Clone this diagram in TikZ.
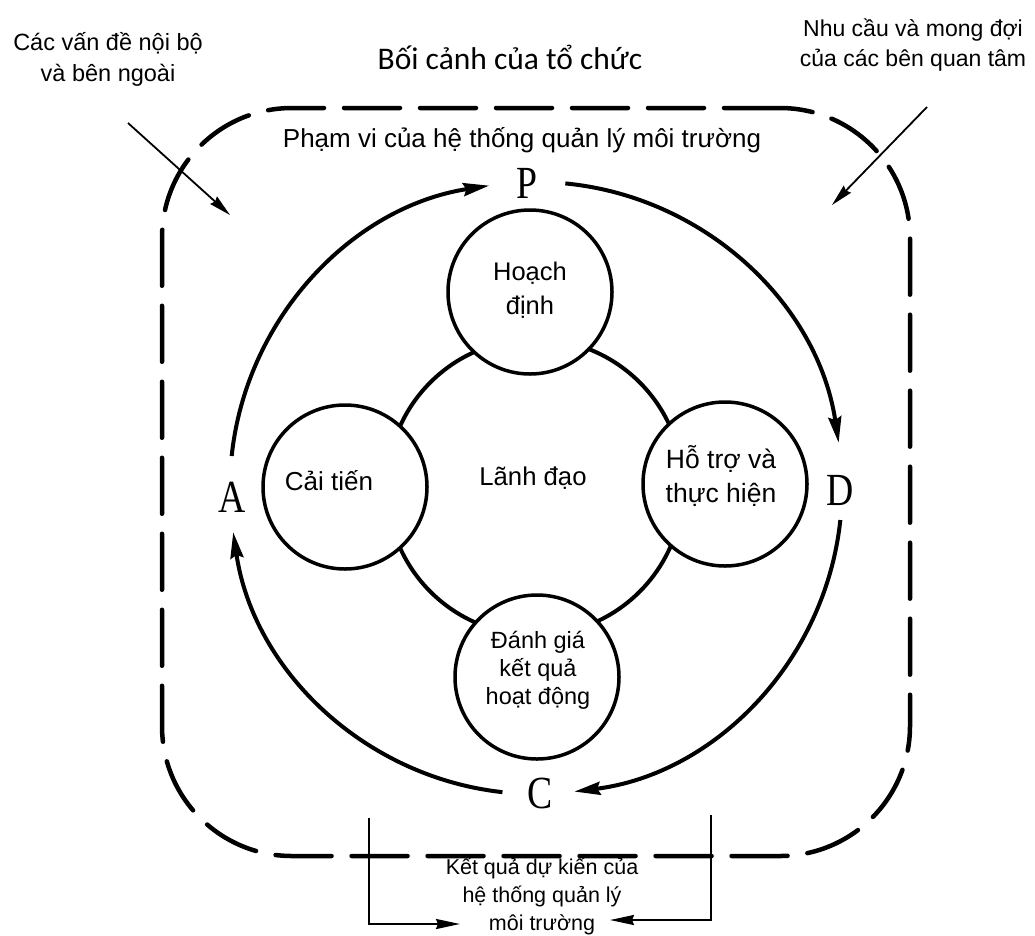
\documentclass[tikz,border=0pt]{standalone}
\usepackage{fontspec}
\setmainfont{Liberation Sans}
\newfontfamily\calfont{Carlito}
\newfontfamily\serfont{Liberation Serif}
\usetikzlibrary{arrows.meta,calc}
\begin{document}
\begin{tikzpicture}[x=1pt,y=-1pt,
  frame/.style={draw, line width=4.5pt, dash pattern=on 56pt off 20pt, line cap=round,
    rectangle, rounded corners=130pt, minimum width=748pt, minimum height=748pt, inner sep=0pt},
  cyc/.style={line width=4pt, -{Stealth[length=26pt,width=13pt,inset=3pt]}},
  circ/.style={circle, draw, line width=3.5pt, fill=white, minimum size=164pt, inner sep=0pt},
  ring/.style={circle, draw, line width=4pt, minimum size=296pt, inner sep=0pt},
  thinarrow/.style={line width=1.8pt, -{Stealth[length=22pt,width=10pt,inset=2pt]}},
  bracket/.style={line width=2pt, -{Stealth[length=24pt,width=10pt,inset=2pt]}},
  lbl/.style={align=center, inner sep=0pt},
  letter/.style={inner sep=0pt, font=\serfont\fontsize{46}{46}\selectfont}
]
\useasboundingbox (0,0) rectangle (1035,935);
\fill[white] (0,0) rectangle (1035,935);

% outer dashed frame
\node[frame] (scopebox) at (536,482) {};

% top texts
\node[lbl, font=\fontsize{23.5}{31}\selectfont] (issues) at (108,59) {Các vấn đề nội bộ\\và bên ngoài};
\node[lbl, font=\fontsize{23}{30}\selectfont] (needs) at (913,45) {Nhu cầu và mong đợi\\của các bên quan tâm};
\node[lbl, font=\calfont\fontsize{31.5}{36}\selectfont] (context) at (510,57) {Bối cảnh của tổ chức};
\node[lbl, font=\fontsize{26}{30}\selectfont] (scopetxt) at (522,140) {Phạm vi của hệ thống quản lý môi trường};

% diagonal input arrows
\coordinate (issA) at (128,123);
\coordinate (issB) at (230,215);
\draw[thinarrow] (issA) -- (issB);
\coordinate (needA) at (927,107);
\coordinate (needB) at (832,205);
\draw[thinarrow] (needA) -- (needB);

% PDCA letters
\node[letter] (P) at (527,183) {\scalebox{0.82}[1]{P}};
\node[letter] (D) at (840,490) {\scalebox{0.82}[1]{D}};
\node[letter] (C) at (540,793) {\scalebox{0.82}[1]{C}};
\node[letter] (A) at (232,497) {\scalebox{0.82}[1]{A}};

% PDCA cycle arcs
\coordinate (O) at (536,488);
\draw[cyc] ($(O)+(174:306pt)$) arc[start angle=174, end angle=98.8, radius=306pt];
\draw[cyc] ($(O)+(84.5:306pt)$) arc[start angle=84.5, end angle=8.5, radius=306pt];
\draw[cyc] ($(O)+(-6:306pt)$) arc[start angle=-6, end angle=-82.8, radius=306pt];
\draw[cyc] ($(O)+(-96.3:306pt)$) arc[start angle=-96.3, end angle=-171.7, radius=306pt];

% leadership ring and stage circles
\node[ring] (lead) at (535,487) {};
\node[circ] (plan) at (530,292) {};
\node[circ] (impr) at (345,487) {};
\node[circ] (supp) at (725,484) {};
\node[circ] (eval) at (537,677) {};

\node[lbl, font=\fontsize{25.7}{30}\selectfont] (leadtxt) at (533,478) {Lãnh đạo};
\node[lbl, font=\fontsize{25.5}{34}\selectfont] (plantxt) at (530,290) {Hoạch\\định};
\node[lbl, font=\fontsize{26}{34}\selectfont] (imprtxt) at (329,481) {Cải tiến};
\node[lbl, font=\fontsize{26.5}{34}\selectfont] (supptxt) at (721,476) {Hỗ trợ và\\thực hiện};
\node[lbl, font=\fontsize{23.5}{28}\selectfont] (evaltxt) at (538,670) {Đánh giá\\kết quả\\hoạt động};

% intended outcomes
\node[lbl, font=\fontsize{21.5}{28}\selectfont] (outc) at (542,896) {Kết quả dự kiến của\\hệ thống quản lý\\môi trường};
\coordinate (bl0) at (369,818);
\coordinate (bl1) at (369,924);
\coordinate (bl2) at (460,924);
\draw[bracket] (bl0) -- (bl1) -- (bl2);
\coordinate (br0) at (711,815);
\coordinate (br1) at (711,920);
\coordinate (br2) at (610,920);
\draw[bracket] (br0) -- (br1) -- (br2);
\end{tikzpicture}
\end{document}
